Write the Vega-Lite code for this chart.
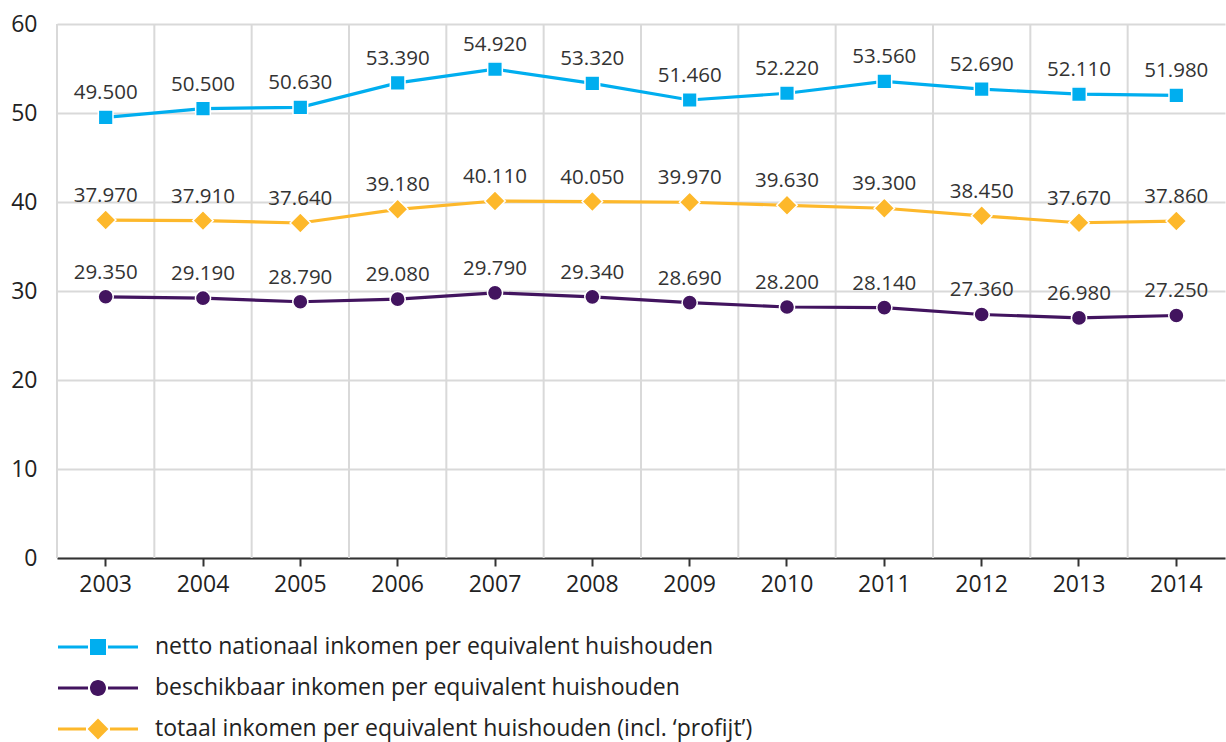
{
  "$schema": "https://vega.github.io/schema/vega-lite/v6.json",
  "width": 1168,
  "height": 534,
  "autosize": {"type": "none"},
  "padding": {"left": 57, "top": 24, "right": 1, "bottom": 184},
  "background": "white",
  "config": {
    "font": "Open Sans",
    "view": {"stroke": null},
    "axis": {"labelFont": "Open Sans", "labelColor": "#222222"}
  },
  "data": {
    "values": [
      {"jaar": "2003", "reeks": "netto nationaal inkomen per equivalent huishouden", "waarde": 49.5},
      {"jaar": "2004", "reeks": "netto nationaal inkomen per equivalent huishouden", "waarde": 50.5},
      {"jaar": "2005", "reeks": "netto nationaal inkomen per equivalent huishouden", "waarde": 50.63},
      {"jaar": "2006", "reeks": "netto nationaal inkomen per equivalent huishouden", "waarde": 53.39},
      {"jaar": "2007", "reeks": "netto nationaal inkomen per equivalent huishouden", "waarde": 54.92},
      {"jaar": "2008", "reeks": "netto nationaal inkomen per equivalent huishouden", "waarde": 53.32},
      {"jaar": "2009", "reeks": "netto nationaal inkomen per equivalent huishouden", "waarde": 51.46},
      {"jaar": "2010", "reeks": "netto nationaal inkomen per equivalent huishouden", "waarde": 52.22},
      {"jaar": "2011", "reeks": "netto nationaal inkomen per equivalent huishouden", "waarde": 53.56},
      {"jaar": "2012", "reeks": "netto nationaal inkomen per equivalent huishouden", "waarde": 52.69},
      {"jaar": "2013", "reeks": "netto nationaal inkomen per equivalent huishouden", "waarde": 52.11},
      {"jaar": "2014", "reeks": "netto nationaal inkomen per equivalent huishouden", "waarde": 51.98},
      {"jaar": "2003", "reeks": "beschikbaar inkomen per equivalent huishouden", "waarde": 29.35},
      {"jaar": "2004", "reeks": "beschikbaar inkomen per equivalent huishouden", "waarde": 29.19},
      {"jaar": "2005", "reeks": "beschikbaar inkomen per equivalent huishouden", "waarde": 28.79},
      {"jaar": "2006", "reeks": "beschikbaar inkomen per equivalent huishouden", "waarde": 29.08},
      {"jaar": "2007", "reeks": "beschikbaar inkomen per equivalent huishouden", "waarde": 29.79},
      {"jaar": "2008", "reeks": "beschikbaar inkomen per equivalent huishouden", "waarde": 29.34},
      {"jaar": "2009", "reeks": "beschikbaar inkomen per equivalent huishouden", "waarde": 28.69},
      {"jaar": "2010", "reeks": "beschikbaar inkomen per equivalent huishouden", "waarde": 28.2},
      {"jaar": "2011", "reeks": "beschikbaar inkomen per equivalent huishouden", "waarde": 28.14},
      {"jaar": "2012", "reeks": "beschikbaar inkomen per equivalent huishouden", "waarde": 27.36},
      {"jaar": "2013", "reeks": "beschikbaar inkomen per equivalent huishouden", "waarde": 26.98},
      {"jaar": "2014", "reeks": "beschikbaar inkomen per equivalent huishouden", "waarde": 27.25},
      {"jaar": "2003", "reeks": "totaal inkomen per equivalent huishouden (incl. ‘profijt’)", "waarde": 37.97},
      {"jaar": "2004", "reeks": "totaal inkomen per equivalent huishouden (incl. ‘profijt’)", "waarde": 37.91},
      {"jaar": "2005", "reeks": "totaal inkomen per equivalent huishouden (incl. ‘profijt’)", "waarde": 37.64},
      {"jaar": "2006", "reeks": "totaal inkomen per equivalent huishouden (incl. ‘profijt’)", "waarde": 39.18},
      {"jaar": "2007", "reeks": "totaal inkomen per equivalent huishouden (incl. ‘profijt’)", "waarde": 40.11},
      {"jaar": "2008", "reeks": "totaal inkomen per equivalent huishouden (incl. ‘profijt’)", "waarde": 40.05},
      {"jaar": "2009", "reeks": "totaal inkomen per equivalent huishouden (incl. ‘profijt’)", "waarde": 39.97},
      {"jaar": "2010", "reeks": "totaal inkomen per equivalent huishouden (incl. ‘profijt’)", "waarde": 39.63},
      {"jaar": "2011", "reeks": "totaal inkomen per equivalent huishouden (incl. ‘profijt’)", "waarde": 39.3},
      {"jaar": "2012", "reeks": "totaal inkomen per equivalent huishouden (incl. ‘profijt’)", "waarde": 38.45},
      {"jaar": "2013", "reeks": "totaal inkomen per equivalent huishouden (incl. ‘profijt’)", "waarde": 37.67},
      {"jaar": "2014", "reeks": "totaal inkomen per equivalent huishouden (incl. ‘profijt’)", "waarde": 37.86}
    ]
  },
  "encoding": {
    "x": {
      "field": "jaar",
      "type": "ordinal",
      "scale": {"type": "band", "paddingInner": 0, "paddingOuter": 0},
      "axis": {
        "title": null,
        "labelAngle": 0,
        "labelFontSize": 23,
        "labelPadding": 7,
        "grid": false,
        "domainColor": "#333333",
        "domainWidth": 2,
        "tickColor": "#333333",
        "tickWidth": 2,
        "tickSize": 8
      }
    },
    "y": {
      "field": "waarde",
      "type": "quantitative",
      "scale": {"domain": [0, 60], "nice": false},
      "axis": {
        "title": null,
        "values": [0, 10, 20, 30, 40, 50, 60],
        "labelFontSize": 23,
        "labelPadding": 20,
        "domain": false,
        "ticks": false,
        "grid": true,
        "gridColor": "#d9d9d9",
        "gridWidth": 2
      }
    }
  },
  "layer": [
    {
      "transform": [{"filter": "datum.reeks === 'netto nationaal inkomen per equivalent huishouden'"}],
      "mark": {"type": "rule", "color": "#d9d9d9", "strokeWidth": 2},
      "encoding": {
        "x": {"field": "jaar", "type": "ordinal", "bandPosition": 0},
        "y": null
      }
    },
    {
      "mark": {"type": "line", "strokeWidth": 3.2},
      "encoding": {
        "color": {
          "field": "reeks",
          "type": "nominal",
          "scale": {
            "domain": [
              "netto nationaal inkomen per equivalent huishouden",
              "beschikbaar inkomen per equivalent huishouden",
              "totaal inkomen per equivalent huishouden (incl. ‘profijt’)"
            ],
            "range": ["#00aeef", "#42145f", "#fdb82b"]
          },
          "legend": null
        }
      }
    },
    {
      "transform": [{"filter": "datum.reeks === 'netto nationaal inkomen per equivalent huishouden'"}],
      "mark": {"type": "point", "shape": "square", "size": 215, "filled": true, "opacity": 1, "color": "#00aeef", "stroke": "white", "strokeWidth": 1.5},
      "encoding": {}
    },
    {
      "transform": [{"filter": "datum.reeks === 'beschikbaar inkomen per equivalent huishouden'"}],
      "mark": {"type": "point", "shape": "circle", "size": 230, "filled": true, "opacity": 1, "color": "#42145f", "stroke": "white", "strokeWidth": 1.5},
      "encoding": {}
    },
    {
      "transform": [{"filter": "datum.reeks === 'totaal inkomen per equivalent huishouden (incl. ‘profijt’)'"}],
      "mark": {"type": "point", "shape": "diamond", "size": 420, "filled": true, "opacity": 1, "color": "#fdb82b", "stroke": "white", "strokeWidth": 1.5},
      "encoding": {}
    },
    {
      "mark": {"type": "text", "dy": -24, "fontSize": 20.5, "color": "#333333", "baseline": "middle", "align": "center"},
      "encoding": {
        "text": {"field": "waarde", "type": "quantitative", "format": ".3f"}
      }
    },
    {
      "mark": {"type": "point", "filled": true, "opacity": 0},
      "encoding": {
        "color": {
          "field": "reeks",
          "type": "nominal",
          "scale": {
            "domain": [
              "netto nationaal inkomen per equivalent huishouden",
              "beschikbaar inkomen per equivalent huishouden",
              "totaal inkomen per equivalent huishouden (incl. ‘profijt’)"
            ],
            "range": ["#00aeef", "#42145f", "#fdb82b"]
          },
          "legend": {
            "title": null,
            "orient": "none",
            "legendX": 1,
            "legendY": 611,
            "direction": "vertical",
            "symbolSize": 6400,
            "symbolOpacity": 1,
            "symbolStrokeWidth": 0,
            "clipHeight": 24,
            "rowPadding": 17,
            "labelOffset": 17,
            "labelFontSize": 23,
            "labelFont": "Open Sans",
            "labelColor": "#222222",
            "labelLimit": 900
          }
        },
        "shape": {
          "field": "reeks",
          "type": "nominal",
          "scale": {
            "domain": [
              "netto nationaal inkomen per equivalent huishouden",
              "beschikbaar inkomen per equivalent huishouden",
              "totaal inkomen per equivalent huishouden (incl. ‘profijt’)"
            ],
            "range": [
              "M-1,-0.04H-0.25V0.04H-1Z M0.25,-0.04H1V0.04H0.25Z M-0.2,-0.2H0.2V0.2H-0.2Z",
              "M-1,-0.04H-0.25V0.04H-1Z M0.25,-0.04H1V0.04H0.25Z M-0.2,0A0.2,0.2 0 1,0 0.2,0A0.2,0.2 0 1,0 -0.2,0Z",
              "M-1,-0.04H-0.3V0.04H-1Z M0.3,-0.04H1V0.04H0.3Z M0,-0.26L0.26,0L0,0.26L-0.26,0Z"
            ]
          },
          "legend": {
            "title": null,
            "orient": "none",
            "legendX": 1,
            "legendY": 611,
            "direction": "vertical",
            "symbolSize": 6400,
            "symbolOpacity": 1,
            "symbolStrokeWidth": 0,
            "clipHeight": 24,
            "rowPadding": 17,
            "labelOffset": 17,
            "labelFontSize": 23,
            "labelFont": "Open Sans",
            "labelColor": "#222222",
            "labelLimit": 900
          }
        },
        "size": {"value": 6400}
      }
    }
  ],
  "resolve": {"scale": {"color": "independent", "shape": "independent"}}
}
